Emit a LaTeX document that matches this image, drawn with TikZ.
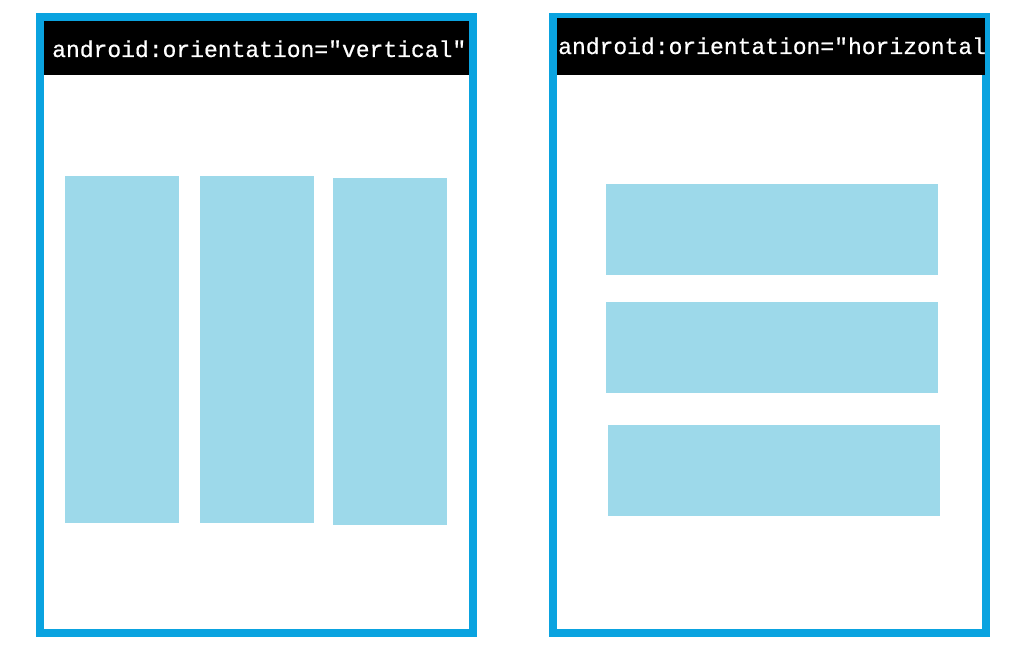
\documentclass[tikz,border=0pt]{standalone}
\usepackage{fontspec}
\newfontfamily\codefont[FakeBold=0.6]{Liberation Mono}
\definecolor{frameblue}{RGB}{10,163,224}
\definecolor{itemblue}{RGB}{157,217,234}
\tikzset{
  frame/.style={draw=frameblue, line width=8pt, fill=white},
  header/.style={fill=black},
  item/.style={fill=itemblue},
  codetext/.style={text=white, font=\codefont\fontsize{23}{27}\selectfont, inner sep=0pt, anchor=base west}
}
\begin{document}
\begin{tikzpicture}[x=1pt,y=-1pt]
\useasboundingbox (0,0) rectangle (1011,652);
% left frame
\draw[frame] (40,17) rectangle (473,633);
\fill[header] (44,21) rectangle (469,75);
\node[codetext] (vtext) at (52,57) {android:orientation="vertical"};
\fill[item] (65,176) rectangle (179,523);
\fill[item] (200,176) rectangle (314,523);
\fill[item] (333,178) rectangle (447,525);
% right frame
\draw[frame] (553,17) rectangle (986,633);
\fill[header] (557,18) rectangle (985,75);
\begin{scope}
\clip (557,18) rectangle (985,75);
\node[codetext] (htext) at (558,54) {android:orientation="horizontal"};
\end{scope}
\fill[item] (606,184) rectangle (938,275);
\fill[item] (606,302) rectangle (938,393);
\fill[item] (608,425) rectangle (940,516);
\end{tikzpicture}
\end{document}
